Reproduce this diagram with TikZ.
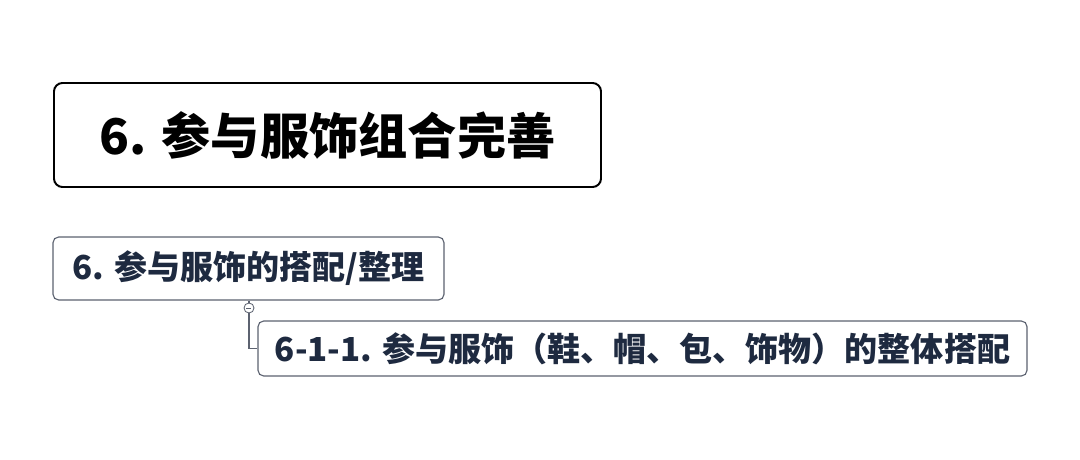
\documentclass[tikz,border=0pt]{standalone}
\usepackage{fontspec}
\usepackage{xcolor}
\newfontfamily\cjk{Noto Sans CJK SC}
\definecolor{ink}{HTML}{1E2A40}
\definecolor{rim}{HTML}{5C6270}

\begin{document}
\begin{tikzpicture}[x=0.025cm,y=-0.025cm,
	rootbox/.style={draw=black,line width=1.4pt,rounded corners=6pt,fill=white,
		minimum width=547*0.025cm,minimum height=104*0.025cm,
		font=\cjk\bfseries\fontsize{35}{40}\selectfont,text=black},
	subbox/.style={draw=rim,line width=0.8pt,rounded corners=4pt,fill=white,
		font=\cjk\bfseries\fontsize{23.5}{28}\selectfont,text=ink}]
			\useasboundingbox (0,0) rectangle (1080,460);

			\node[rootbox] (root) at (327.5,135) {6. 参与服饰组合完善};

			\node[subbox,minimum width=391*0.025cm,minimum height=63*0.025cm] (s1) at (248.5,268.5) {6. 参与服饰的搭配/整理};
			\node[subbox,minimum width=769*0.025cm,minimum height=55*0.025cm] (s11) at (642.5,348.5) {6-1-1. 参与服饰（鞋、帽、包、饰物）的整体搭配};

			% collapse knob below the parent
			\node[circle,draw=rim,line width=0.6pt,fill=white,inner sep=0pt,minimum size=10*0.025cm] (knob) at (249,308) {};
			\draw[rim,line width=0.6pt] (knob.west) ++(2.5,0) -- ++(5,0);

			\draw[rim,line width=0.8pt] (s1.south -| knob) -- (knob.north);
			\draw[rim,line width=0.8pt] (knob.south) |- (s11.west);
		\end{tikzpicture}
\end{document}
